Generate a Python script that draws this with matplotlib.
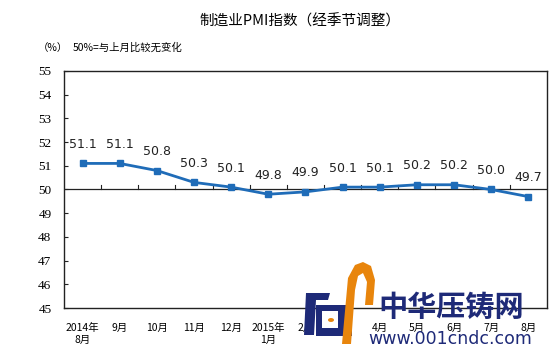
import matplotlib.pyplot as plt
from matplotlib.patches import Rectangle, Polygon, Circle

plt.rcParams['font.family'] = ['Noto Sans CJK SC', 'DejaVu Sans']

months = ['2014年\n8月', '9月', '10月', '11月', '12月', '2015年\n1月', '2月',
          '3月', '4月', '5月', '6月', '7月', '8月']
pmi = [51.1, 51.1, 50.8, 50.3, 50.1, 49.8, 49.9, 50.1, 50.1, 50.2, 50.2, 50.0, 49.7]
yticks = list(range(45, 56))

fig = plt.figure(figsize=(5.53, 3.64), dpi=100)
ax = fig.add_axes([0.1157, 0.1538, 0.8733, 0.6512])

x = list(range(len(pmi)))
ax.plot(x, pmi, color='#1f6cb8', linewidth=2, marker='s', markersize=5,
        markerfacecolor='#1f6cb8', markeredgecolor='#1f6cb8', zorder=3)
for i, v in enumerate(pmi):
    ax.annotate('%.1f' % v, (i, v), xytext=(0, 9), textcoords='offset points',
                ha='center', va='bottom', fontsize=9, family='DejaVu Sans', color='#222222')

ax.set_xlim(-0.5, len(pmi) - 0.5)
ax.set_ylim(45, 55)

# reference line at 50 with category ticks
ax.axhline(50, color='#222222', linewidth=0.9, zorder=2)
for b in range(1, len(pmi)):
    ax.plot([b - 0.5, b - 0.5], [50, 50.17], color='#222222', linewidth=0.8, zorder=2)

ax.set_yticks(yticks)
ax.set_yticklabels([str(t) for t in yticks], family='Liberation Serif', fontsize=9.5)
ax.tick_params(axis='y', direction='in', length=3, pad=9, color='#222222')
ax.set_xticks(x)
ax.set_xticklabels(months, fontsize=7.5)
ax.tick_params(axis='x', length=0, pad=11)
for lab in ax.get_xticklabels():
    lab.set_linespacing(1.2)
for s in ax.spines.values():
    s.set_color('#222222')
    s.set_linewidth(1.0)

fig.text(0.543, 0.94, '制造业PMI指数（经季节调整）', ha='center', va='center', fontsize=10.5)
fig.text(0.068, 0.868, '（%）', ha='left', va='center', fontsize=7.5)
fig.text(0.132, 0.868, '50%=与上月比较无变化', ha='left', va='center', fontsize=7.5)

# watermark (site logo)
navy = '#1e2a78'
orange = '#e8850c'
px = lambda xx, yy: (xx / 553, 1 - yy / 364)
fig.patches.append(Polygon([px(306, 293), px(330, 293), px(328, 300), px(316, 300),
                            px(314, 335), px(304, 335)], closed=True,
                           facecolor=navy, edgecolor='none', transform=fig.transFigure, zorder=10))
fig.patches.append(Rectangle(px(316, 336), 36 / 553, 31 / 364, facecolor=navy,
                             edgecolor='none', transform=fig.transFigure, zorder=10))
fig.patches.append(Rectangle(px(322, 328), 16 / 553, 17 / 364, facecolor='white',
                             edgecolor='none', transform=fig.transFigure, zorder=11))
fig.patches.append(Circle(px(331, 320), 3 / 553, facecolor=orange, edgecolor='none',
                          transform=fig.transFigure, zorder=12))
fig.patches.append(Polygon([px(342, 344), px(348, 278), px(355, 265), px(363, 262),
                            px(371, 266), px(375, 280), px(373, 305), px(365, 305),
                            px(367, 282), px(363, 273), px(358, 276), px(355, 290),
                            px(351, 344)], closed=True,
                           facecolor=orange, edgecolor='none', transform=fig.transFigure, zorder=12))
fig.text(0.815, 0.157, '中华压铸网', ha='center', va='center', fontsize=21,
         fontweight='bold', color=navy, zorder=13)
fig.text(0.815, 0.07, 'www.001cndc.com', ha='center', va='center', fontsize=12.5,
         color=navy, family='DejaVu Sans', zorder=13)

fig.savefig('out.png', dpi=100)
